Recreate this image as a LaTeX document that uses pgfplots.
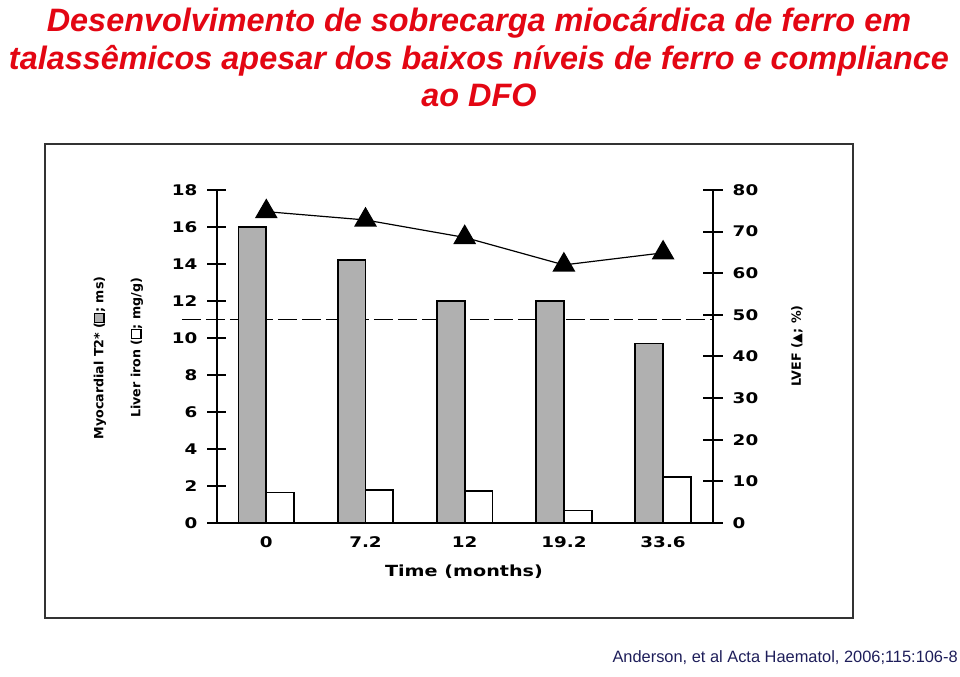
\documentclass[border=0pt]{standalone}
\usepackage{pgfplots}
\pgfplotsset{compat=1.18}
\usepackage{fontspec}
\setmainfont{Liberation Sans}
\newfontfamily\chartfont[FakeStretch=1.25]{DejaVu Sans}
\newfontfamily\labfont{DejaVu Sans}
\definecolor{titlered}{HTML}{E30613}
\definecolor{navy}{HTML}{1E1E5A}
\definecolor{bargray}{HTML}{B0B0B0}
\newcommand\gbox{{\setlength\fboxsep{0pt}\setlength\fboxrule{0.8pt}\fcolorbox{black}{bargray}{\rule{0pt}{6pt}\hspace{6pt}}}}
\newcommand\wbox{{\setlength\fboxsep{0pt}\setlength\fboxrule{0.8pt}\fcolorbox{black}{white}{\rule{0pt}{6pt}\hspace{6pt}}}}
\begin{document}
\begin{tikzpicture}[x=0.75pt,y=0.75pt]
\path[use as bounding box] (0,0) rectangle (960,677);
% titles
\begin{scope}[every node/.style={anchor=base,text=titlered,font=\bfseries\itshape\fontsize{24.3}{28}\selectfont,inner sep=0pt}]
\node at (479,645.3) {Desenvolvimento de sobrecarga miocárdica de ferro em};
\node at (479,607.7) {talassêmicos apesar dos baixos níveis de ferro e compliance};
\node at (479,570) {ao DFO};
\end{scope}
\node[anchor=base east,inner sep=0pt,text=navy,font=\fontsize{12.3}{14}\selectfont] at (958,14) {Anderson, et al Acta Haematol, 2006;115:106-8};
% frame
\draw[line width=1.8pt,black!80] (45,533) rectangle (853,59);
\begin{axis}[
  at={(162.525pt,115.5pt)}, anchor=south west,
  width=372pt, height=249.75pt, scale only axis,
  xmin=-0.5, xmax=4.5, ymin=0, ymax=18,
  axis x line*=bottom, axis y line*=left,
  ytick={0,2,...,18},
  xtick=\empty,
  extra x ticks={0,1,2,3,4}, extra x tick labels={0,7.2,12,19.2,33.6},
  extra x tick style={major tick length=0pt, xticklabel style={yshift=-7pt}},
  minor xtick={0.5,1.5,2.5,3.5},
  tick align=center, major tick length=14pt, minor tick length=8.5pt,
  axis line style={line width=1.5pt,black},
  tick style={line width=1.5pt,black},
  /pgf/number format/assume math mode=true,
  ticklabel style={font=\chartfont\bfseries\fontsize{11}{12}\selectfont},
  yticklabel style={xshift=-4pt},
  clip=false,
  bar width=0.28,
]
\addplot[line width=1.2pt, dash pattern=on 14pt off 4pt, forget plot] coordinates {(-0.85,11) (4.5,11)};
\addplot[ybar, bar shift=-0.14, fill=bargray, draw=black, line width=1.3pt] coordinates {(0,16.0) (1,14.2) (2,12.0) (3,12.0) (4,9.7)};
\addplot[ybar, bar shift=0.14, fill=white, draw=black, line width=1.3pt] coordinates {(0,1.65) (1,1.8) (2,1.72) (3,0.68) (4,2.5)};
\end{axis}
\begin{axis}[
  at={(162.525pt,115.5pt)}, anchor=south west,
  width=372pt, height=249.75pt, scale only axis,
  xmin=-0.5, xmax=4.5, ymin=0, ymax=80,
  axis y line*=right, axis x line=none,
  ytick={0,10,...,80},
  tick align=center, major tick length=15pt,
  axis line style={line width=1.5pt,black},
  tick style={line width=1.5pt,black},
  /pgf/number format/assume math mode=true,
  ticklabel style={font=\chartfont\bfseries\fontsize{11}{12}\selectfont},
  yticklabel style={xshift=4pt},
  clip=false,
]
\addplot[black, line width=0.9pt, mark=triangle*, mark size=9pt, mark options={solid,fill=black}] coordinates {(0,74.8) (1,72.8) (2,68.6) (3,62.0) (4,64.9)};
\end{axis}
% axis labels
\node[rotate=90,font=\labfont\bfseries\fontsize{9.5}{11}\selectfont] at (100,319) {Myocardial T2* (\gbox; ms)};
\node[rotate=90,font=\labfont\bfseries\fontsize{9.5}{11}\selectfont] at (137,329) {Liver iron (\wbox; mg/g)};
\node[rotate=90,font=\labfont\bfseries\fontsize{9.5}{11}\selectfont] at (797,331) {LVEF (▲; \%)};
\node[font=\chartfont\bfseries\fontsize{11.5}{13}\selectfont] at (464,105) {Time (months)};
\end{tikzpicture}
\end{document}
